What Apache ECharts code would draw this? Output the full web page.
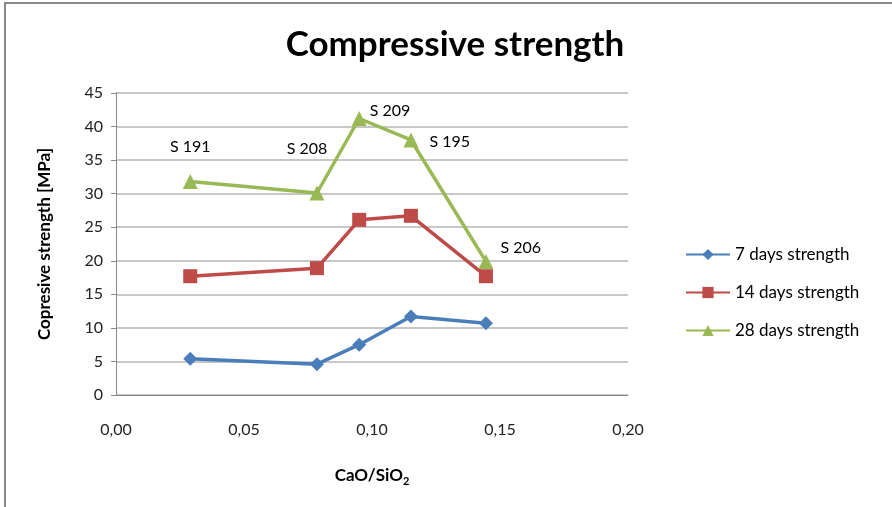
<!DOCTYPE html>
<html>
<head>
<meta charset="utf-8">
<script src="https://cdn.jsdelivr.net/npm/echarts@6/dist/echarts.min.js"></script>
<style>
  html, body { margin: 0; padding: 0; background: #fff; }
  #frame { position: absolute; left: 4px; top: 2px; width: 900px; height: 520px; border: 2px solid #8a8a8a; box-sizing: border-box; }
  #chart { position: absolute; left: 0; top: 0; width: 892px; height: 507px; }
</style>
</head>
<body>
<div id="frame"></div>
<div id="chart"></div>
<script>
// CaO/SiO2 ratio of each sample
const ratios = [0.029, 0.0785, 0.095, 0.1152, 0.1445];
const sampleNames = ['S 191', 'S 208', 'S 209', 'S 195', 'S 206'];
const days7 = [5.4, 4.6, 7.5, 11.7, 10.7];
const days14 = [17.7, 18.9, 26.1, 26.7, 17.7];
const days28 = [31.8, 30.1, 41.2, 38.0, 19.9];
const seriesNames = ['7 days strength', '14 days strength', '28 days strength'];

const font = 'Lato';

const pairs = vals => ratios.map((x, i) => [x, vals[i]]);

// label positions for the sample names on the 28-day line
const labelPos = ['top', 'top', 'right', 'right', 'right'];
const labelOffset = [[0, -14], [-10, -24], [-2, -8], [6, 2], [2, -14]];

const chart = echarts.init(document.getElementById('chart'), null, { renderer: 'canvas' });

chart.setOption({
  animation: false,
  title: {
    text: 'Compressive strength',
    left: 450,
    top: 22,
    textAlign: 'center',
    textStyle: { fontFamily: font, fontWeight: 'bold', fontSize: 35, color: '#000' }
  },
  legend: {
    orient: 'vertical',
    left: 680,
    top: 241,
    itemGap: 21,
    itemWidth: 44,
    itemHeight: 14,
    textStyle: { fontFamily: font, fontSize: 17, color: '#000' },
    data: seriesNames
  },
  grid: { left: 116, right: 264, top: 93, bottom: 112 },
  xAxis: {
    type: 'value',
    min: 0,
    max: 0.2,
    interval: 0.05,
    name: '{n|CaO/SiO}{s|2}',
    nameLocation: 'middle',
    nameGap: 70,
    nameTextStyle: {
      rich: {
        n: { fontFamily: font, fontWeight: 'bold', fontSize: 17, color: '#000' },
        s: { fontFamily: font, fontWeight: 'bold', fontSize: 11, color: '#000', padding: [11, 0, 0, 0] }
      }
    },
    axisLine: { lineStyle: { color: '#888' } },
    axisTick: { show: false },
    splitLine: { show: false },
    axisLabel: {
      margin: 27,
      fontFamily: font, fontSize: 16, color: '#222',
      formatter: v => v.toFixed(2).replace('.', ',')
    }
  },
  yAxis: {
    type: 'value',
    min: 0,
    max: 45,
    interval: 5,
    name: 'Copresive strength [MPa]',
    nameLocation: 'middle',
    nameGap: 63,
    nameTextStyle: { fontFamily: font, fontWeight: 'bold', fontSize: 17, color: '#000' },
    axisLine: { show: true, lineStyle: { color: '#888' } },
    axisTick: { show: true, length: 5, inside: false, lineStyle: { color: '#888' } },
    splitLine: { lineStyle: { color: '#b4b4b4', width: 1.5 } },
    axisLabel: { margin: 13, fontFamily: font, fontSize: 16, color: '#222' }
  },
  series: [
    {
      name: seriesNames[0],
      type: 'line',
      data: pairs(days7),
      symbol: 'diamond',
      symbolSize: 14,
      color: '#4a7ebb',
      lineStyle: { width: 3.5 }
    },
    {
      name: seriesNames[1],
      type: 'line',
      data: pairs(days14),
      symbol: 'rect',
      symbolSize: 14,
      color: '#be4b48',
      lineStyle: { width: 3.5 }
    },
    {
      name: seriesNames[2],
      type: 'line',
      data: ratios.map((x, i) => ({
        value: [x, days28[i]],
        label: {
          show: true,
          formatter: sampleNames[i],
          position: labelPos[i],
          offset: labelOffset[i],
          fontFamily: font,
          fontSize: 16,
          color: '#000'
        }
      })),
      symbol: 'triangle',
      symbolSize: 15,
      color: '#98b954',
      lineStyle: { width: 3.5 }
    }
  ]
});
</script>
</body>
</html>
